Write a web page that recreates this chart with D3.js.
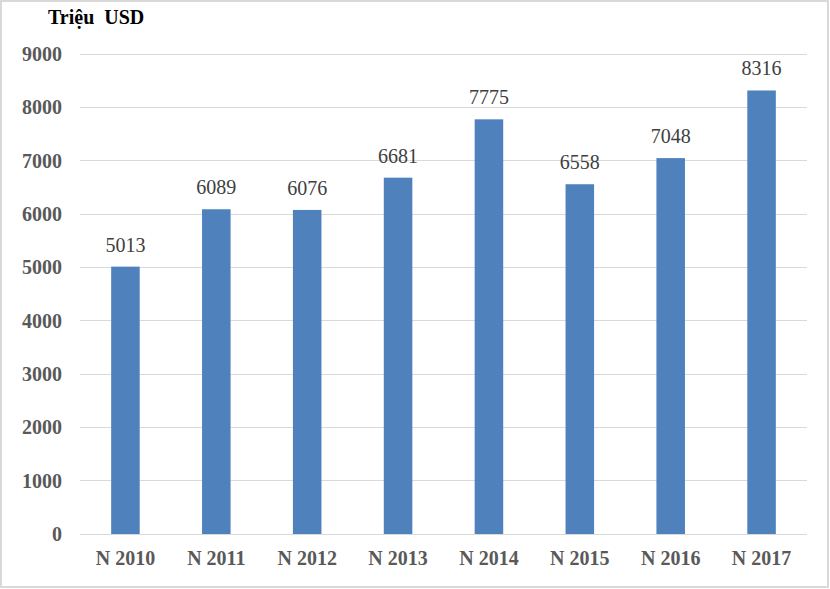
<!DOCTYPE html>
<html><head><meta charset="utf-8">
<script src="https://cdn.jsdelivr.net/npm/d3@7"></script>
<style>
body{margin:0;background:#fff}svg{display:block}
svg text{font-family:"Liberation Serif","Times New Roman",Tinos,"DejaVu Serif",serif !important}
</style>
</head><body>
<script>
const categories = ["N 2010","N 2011","N 2012","N 2013","N 2014","N 2015","N 2016","N 2017"];
const values = [5013,6089,6076,6681,7775,6558,7048,8316];
const yTicks = [0,1000,2000,3000,4000,5000,6000,7000,8000,9000];
const unitLabel = "Triệu  USD";

const W = 830, H = 589;
const svg = d3.select("body").append("svg").attr("width", W).attr("height", H);
svg.append("rect").attr("x",1).attr("y",1).attr("width",W-3).attr("height",H-3)
  .attr("fill","#fff").attr("stroke","#d9d9d9").attr("stroke-width",2);

const x = d3.scaleBand().domain(categories).range([80, 807]).paddingInner(0.686).paddingOuter(0.343);
const y = d3.scaleLinear().domain([0, 9000]).range([534, 54]);

svg.append("g").selectAll("line").data(yTicks).join("line")
  .attr("x1",80).attr("x2",807).attr("y1",d=>y(d)).attr("y2",d=>y(d))
  .attr("stroke","#d9d9d9").attr("stroke-width",1).attr("shape-rendering","crispEdges");

const yAxis = d3.axisLeft(y).tickValues(yTicks).tickFormat(d3.format("d")).tickSize(0).tickPadding(0);
const ya = svg.append("g").attr("transform","translate(62,0)").call(yAxis);
ya.attr("font-family",null);
ya.select(".domain").remove();
ya.selectAll("text").attr("font-weight","bold").attr("font-size",20).attr("fill","#595959").attr("dy","0.33em");

const xAxis = d3.axisBottom(x).tickSize(0).tickPadding(0);
const xa = svg.append("g").attr("transform","translate(0,565)").call(xAxis);
xa.attr("font-family",null);
xa.select(".domain").remove();
xa.selectAll("text").attr("font-weight","bold").attr("font-size",20).attr("fill","#595959").attr("dy",0);

const data = categories.map((c,i)=>({c, v: values[i]}));
svg.selectAll("rect.bar").data(data).join("rect").attr("class","bar")
  .attr("x",d=>x(d.c)).attr("width",x.bandwidth())
  .attr("y",d=>y(d.v)).attr("height",d=>y(0)-y(d.v)).attr("fill","#4f81bd");

svg.selectAll("text.lbl").data(data).join("text").attr("class","lbl")
  .attr("x",d=>x(d.c)+x.bandwidth()/2).attr("y",d=>y(d.v)-15)
  .attr("text-anchor","middle").attr("font-size",20).attr("fill","#404040").text(d=>d.v);

svg.append("text").attr("x",48).attr("y",24)
  .attr("font-weight","bold").attr("font-size",20).attr("fill","#000")
  .style("white-space","pre").text(unitLabel);
</script>
</body></html>
